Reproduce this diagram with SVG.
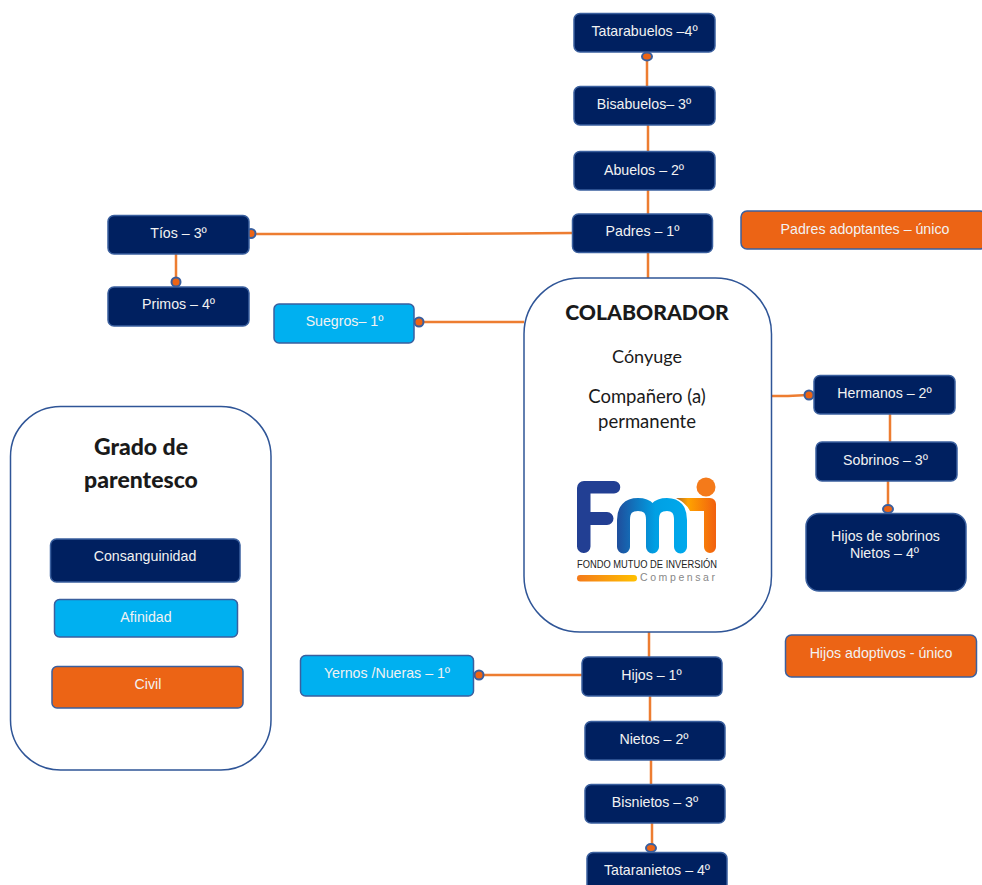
<svg xmlns="http://www.w3.org/2000/svg" width="982" height="885" viewBox="0 0 982 885">
<style>
.n{stroke:#3a5f9e;stroke-width:1.5}
.navy{fill:#002060}.sky{fill:#00b0f0}.orange{fill:#ec6415}
.t{font-family:"Liberation Sans",Arial,sans-serif;font-size:14.2px;fill:#f2f2f2;text-anchor:middle}
.big{fill:#fff;stroke:#2f5597;stroke-width:1.5}
.c{font-family:Lato,"Open Sans",sans-serif;fill:#1a1a1a;text-anchor:middle}
.line{stroke:#ed7d31;stroke-width:2.500;fill:none}
.dot{fill:#ec6415;stroke:#3a5f9e;stroke-width:2}
</style>
<defs>
<linearGradient id="gm" gradientUnits="userSpaceOnUse" x1="617" x2="687" y1="0" y2="0"><stop offset="0" stop-color="#1f4e9c"/><stop offset="0.55" stop-color="#00a0e4"/><stop offset="1" stop-color="#00a9ec"/></linearGradient>
<linearGradient id="gi" gradientUnits="userSpaceOnUse" x1="676" x2="716" y1="0" y2="0"><stop offset="0" stop-color="#a8662a"/><stop offset="0.3" stop-color="#ffa300"/><stop offset="1" stop-color="#f1600f"/></linearGradient>
<linearGradient id="gb" x1="0" x2="1"><stop offset="0" stop-color="#f47a1a"/><stop offset="1" stop-color="#ffc000"/></linearGradient>
</defs>
<g id="connectors">
<path class="line" d="M647 57V86M648 125V151M648 190V214M648 253V278M253 234L412 234L572 233M176 254V281M419 322H524M771 396L788 396L808 395M890 414V442M888 481V507M649 632V657M484 675H582M650 696V721M651 760V784M652 823V846"/>
<ellipse class="dot" cx="647" cy="56.500" rx="5" ry="4"/>
<circle class="dot" cx="251" cy="233.500" r="4.500"/>
<circle class="dot" cx="176" cy="282" r="4.500"/>
<circle class="dot" cx="419" cy="322" r="4.500"/>
<circle class="dot" cx="809" cy="395" r="4.500"/>
<ellipse class="dot" cx="888" cy="509" rx="5" ry="4"/>
<circle class="dot" cx="479" cy="675" r="4.500"/>
<ellipse class="dot" cx="651" cy="848" rx="5" ry="4"/>
</g>
<g id="n-tatarabuelos"><rect class="n navy" x="574" y="13.500" width="141" height="38.500" rx="6"/><text class="t" x="644.500" y="36">Tatarabuelos –4º</text></g>
<g id="n-bisabuelos"><rect class="n navy" x="574" y="86.500" width="141" height="38.500" rx="6"/><text class="t" x="644" y="109">Bisabuelos– 3º</text></g>
<g id="n-abuelos"><rect class="n navy" x="574" y="151.500" width="141" height="38.500" rx="6"/><text class="t" x="644" y="175">Abuelos – 2º</text></g>
<g id="n-padres"><rect class="n navy" x="572.500" y="214" width="140" height="38.500" rx="6"/><text class="t" x="642.500" y="236">Padres – 1º</text></g>
<g id="n-padres-adoptantes"><rect class="n orange" x="741" y="211" width="245" height="38" rx="6"/><text class="t" x="865" y="234">Padres adoptantes – único</text></g>
<g id="n-tios"><rect class="n navy" x="108" y="215.500" width="141" height="38.500" rx="6"/><text class="t" x="178.500" y="238">Tíos – 3º</text></g>
<g id="n-primos"><rect class="n navy" x="108" y="287" width="141" height="39" rx="6"/><text class="t" x="178.500" y="309">Primos – 4º</text></g>
<g id="n-suegros"><rect class="n sky" x="274" y="304" width="140" height="39" rx="5"/><text class="t" x="344.500" y="326">Suegros– 1º</text></g>
<g id="n-colaborador">
<rect class="big" x="524" y="278" width="247.500" height="354" rx="56"/>
<text class="c" x="647" y="320" font-size="21.200" font-weight="900">COLABORADOR</text>
<text class="c" x="647" y="363" font-size="18">Cónyuge</text>
<text class="c" x="647" y="403" font-size="18.500">Compañero (a)</text>
<text class="c" x="647" y="428" font-size="18.500">permanente</text>
<path d="M583.500 553a6.500 6.500 0 0 1-6.500-6.500V488a7 7 0 0 1 7-7H614a6 6 0 0 1 0 12.500H590.500V512H607a6.500 6.500 0 0 1 0 13H590.500V546.500a6.500 6.500 0 0 1-7 6.500z" fill="#223f93"/>
<path d="M623.500 547V520Q623.500 504.500 638 504.500Q652.500 504.500 652.500 520V547M652.500 520Q652.500 504.500 667 504.500Q680.500 504.500 680.500 520V547" fill="none" stroke="url(#gm)" stroke-width="13" stroke-linecap="round"/>
<path d="M676 498H710a6 6 0 0 1 6 6V547a6 6 0 0 1-12 0V511H690Q686 503 676 498z" fill="url(#gi)"/>
<circle cx="706" cy="487" r="9.500" fill="#f47a1a"/>
<text x="577" y="567.500" font-family="Liberation Sans,Arial,sans-serif" font-size="10" fill="#222" textLength="140" lengthAdjust="spacingAndGlyphs">FONDO MUTUO DE INVERSIÓN</text>
<rect x="577" y="575" width="60" height="6.500" rx="3.250" fill="url(#gb)"/>
<text x="640" y="581" font-family="Liberation Sans,Arial,sans-serif" font-size="10.500" fill="#888" textLength="75">Compensar</text>
</g>
<g id="n-hermanos"><rect class="n navy" x="814" y="375.500" width="141" height="38.500" rx="6"/><text class="t" x="884.500" y="398">Hermanos – 2º</text></g>
<g id="n-sobrinos"><rect class="n navy" x="816" y="442" width="141" height="39" rx="6"/><text class="t" x="885.500" y="465">Sobrinos – 3º</text></g>
<g id="n-hijos-sobrinos"><rect class="n navy" x="806" y="513.500" width="160" height="77.500" rx="13"/><text class="t" x="885.500" y="541">Hijos de sobrinos</text><text class="t" x="884.500" y="558">Nietos – 4º</text></g>
<g id="n-hijos-adoptivos"><rect class="n orange" x="785.500" y="635" width="191" height="42" rx="6"/><text class="t" x="881" y="658">Hijos adoptivos - único</text></g>
<g id="n-hijos"><rect class="n navy" x="582" y="657" width="140" height="39" rx="6"/><text class="t" x="651.500" y="680">Hijos – 1º</text></g>
<g id="n-yernos"><rect class="n sky" x="300.500" y="655.500" width="173" height="40.500" rx="5"/><text class="t" x="387" y="678">Yernos /Nueras – 1º</text></g>
<g id="n-nietos"><rect class="n navy" x="585" y="721.500" width="140" height="38.500" rx="6"/><text class="t" x="654" y="744">Nietos – 2º</text></g>
<g id="n-bisnietos"><rect class="n navy" x="585" y="784.500" width="140" height="38.500" rx="6"/><text class="t" x="655" y="807">Bisnietos – 3º</text></g>
<g id="n-tataranietos"><rect class="n navy" x="587" y="852.500" width="140" height="38.500" rx="6"/><text class="t" x="657" y="875">Tataranietos – 4º</text></g>
<g id="legend">
<rect class="big" x="10.500" y="406.500" width="260.500" height="363.500" rx="50"/>
<text class="c" x="141" y="455" font-size="23" font-weight="900">Grado de</text>
<text class="c" x="141" y="488" font-size="23" font-weight="900">parentesco</text>
</g>
<g id="n-consanguinidad"><rect class="n navy" x="50.500" y="539" width="189.500" height="43" rx="6"/><text class="t" x="145" y="561">Consanguinidad</text></g>
<g id="n-afinidad"><rect class="n sky" x="54.500" y="599.500" width="183" height="37.500" rx="5"/><text class="t" x="146" y="622">Afinidad</text></g>
<g id="n-civil"><rect class="n orange" x="52" y="666.500" width="191" height="41.500" rx="5"/><text class="t" x="148" y="689">Civil</text></g>
</svg>
